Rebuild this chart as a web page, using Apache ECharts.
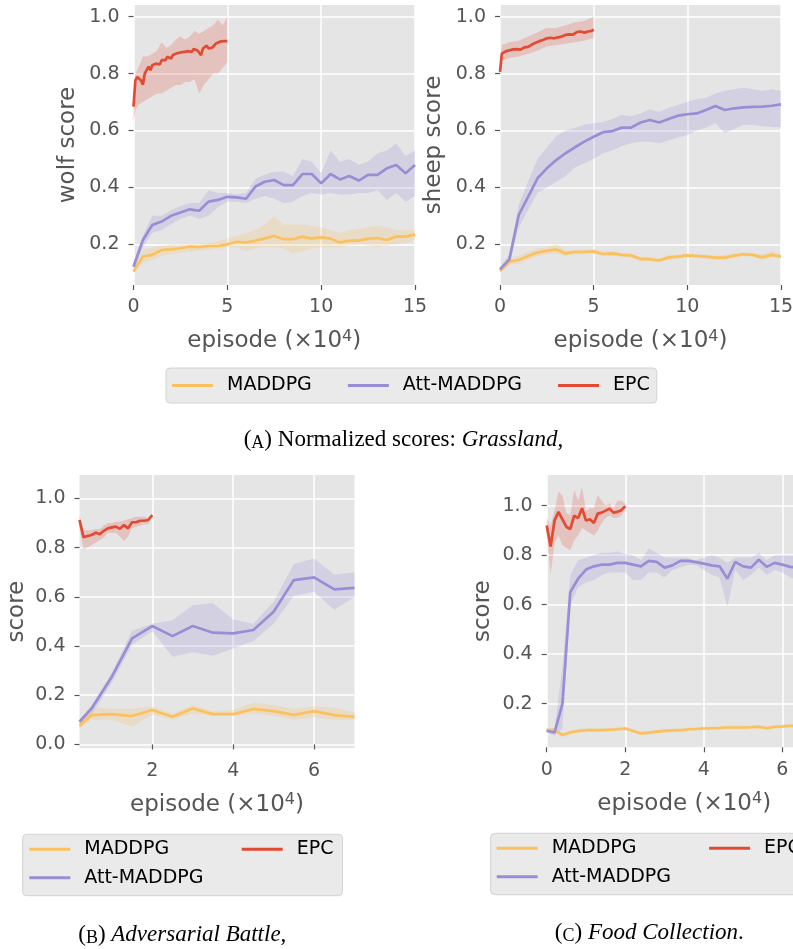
<!DOCTYPE html>
<html><head><meta charset="utf-8">
<script src="https://cdn.jsdelivr.net/npm/echarts@6/dist/echarts.min.js"></script>
<style>html,body{margin:0;padding:0;overflow:hidden;background:#fff}#c{width:830px;height:949px}</style>
</head><body><div id="c"></div><script>
// ---------- data (x in units of 1e4 episodes) ----------
const methods = ['MADDPG', 'Att-MADDPG', 'EPC'];

// (A) Grassland
const grassX = [0,0.5,1,1.5,2,2.5,3,3.5,4,4.5,5,5.5,6,6.5,7,7.5,8,8.5,9,9.5,10,10.5,11,11.5,12,12.5,13,13.5,14,14.5,15];
const grassEpcX = [0,0.1,0.2,0.3,0.4,0.5,0.6,0.7,0.8,0.9,1.0,1.1,1.2,1.3,1.4,1.5,1.6,1.7,1.8,1.9,2.0,2.1,2.2,2.3,2.4,2.5,2.6,2.7,2.8,2.9,3.0,3.1,3.2,3.3,3.4,3.5,3.6,3.7,3.8,3.9,4.0,4.1,4.2,4.3,4.4,4.5,4.6,4.7,4.8,4.9,5.0];

const wolfMADDPG    = [0.104,0.157,0.163,0.18,0.182,0.186,0.192,0.19,0.194,0.194,0.2,0.209,0.206,0.213,0.221,0.229,0.218,0.218,0.227,0.22,0.225,0.22,0.206,0.213,0.213,0.22,0.222,0.215,0.227,0.227,0.235];
const wolfMADDPGUp  = [0.11,0.18,0.19,0.195,0.2,0.2,0.2,0.2,0.205,0.21,0.22,0.23,0.24,0.25,0.27,0.3,0.27,0.27,0.27,0.265,0.26,0.25,0.24,0.25,0.255,0.26,0.265,0.26,0.25,0.25,0.25];
const wolfMADDPGLo  = [0.1,0.135,0.145,0.16,0.165,0.17,0.175,0.178,0.18,0.185,0.19,0.19,0.175,0.185,0.19,0.19,0.185,0.168,0.175,0.185,0.19,0.19,0.19,0.195,0.2,0.195,0.19,0.195,0.2,0.205,0.215];
const wolfAtt       = [0.121,0.215,0.268,0.28,0.3,0.312,0.323,0.318,0.35,0.356,0.367,0.365,0.36,0.403,0.42,0.426,0.408,0.408,0.447,0.447,0.414,0.447,0.428,0.44,0.424,0.444,0.444,0.467,0.479,0.45,0.479];
const wolfAttUp     = [0.13,0.23,0.3,0.3,0.32,0.335,0.345,0.345,0.39,0.38,0.38,0.375,0.38,0.43,0.445,0.455,0.455,0.44,0.5,0.49,0.45,0.53,0.49,0.5,0.48,0.49,0.52,0.53,0.555,0.51,0.53];
const wolfAttLo     = [0.1,0.19,0.24,0.25,0.27,0.29,0.3,0.29,0.3,0.33,0.35,0.35,0.345,0.36,0.37,0.36,0.344,0.35,0.37,0.38,0.375,0.38,0.375,0.375,0.38,0.38,0.39,0.356,0.38,0.35,0.37];
const wolfEPC       = [0.684,0.776,0.788,0.79,0.776,0.761,0.8,0.812,0.824,0.812,0.829,0.824,0.835,0.841,0.832,0.847,0.853,0.847,0.859,0.862,0.853,0.865,0.859,0.871,0.865,0.874,0.871,0.876,0.871,0.879,0.882,0.876,0.886,0.891,0.882,0.879,0.865,0.888,0.894,0.898,0.888,0.882,0.891,0.898,0.906,0.9,0.912,0.906,0.914,0.916,0.914];
const wolfEpcBandX  = [0,0.1,0.25,0.5,0.75,1,1.25,1.5,1.75,2,2.25,2.5,2.75,3,3.25,3.5,3.75,4,4.25,4.5,4.75,5];
const wolfEPCUp     = [0.72,0.8,0.82,0.86,0.86,0.87,0.88,0.91,0.89,0.9,0.92,0.93,0.92,0.93,0.95,0.94,0.95,0.96,0.97,0.99,0.97,1.0];
const wolfEPCLo     = [0.63,0.67,0.69,0.7,0.71,0.72,0.73,0.73,0.74,0.75,0.76,0.76,0.77,0.77,0.78,0.73,0.76,0.78,0.8,0.8,0.82,0.84];

const sheepMADDPG   = [0.107,0.139,0.145,0.159,0.171,0.177,0.182,0.168,0.173,0.173,0.175,0.166,0.168,0.163,0.161,0.148,0.148,0.143,0.154,0.157,0.161,0.159,0.157,0.153,0.153,0.16,0.165,0.163,0.154,0.163,0.157];
const sheepMADDPGUp = [0.115,0.15,0.16,0.175,0.185,0.19,0.2,0.18,0.183,0.182,0.183,0.175,0.176,0.17,0.168,0.156,0.155,0.15,0.162,0.164,0.168,0.166,0.165,0.16,0.162,0.168,0.172,0.17,0.165,0.175,0.165];
const sheepMADDPGLo = [0.1,0.128,0.132,0.145,0.16,0.165,0.168,0.158,0.164,0.165,0.167,0.158,0.16,0.156,0.153,0.14,0.14,0.136,0.146,0.15,0.154,0.152,0.149,0.145,0.145,0.152,0.158,0.155,0.145,0.152,0.15];
const sheepAtt      = [0.112,0.147,0.303,0.367,0.432,0.467,0.496,0.52,0.541,0.561,0.578,0.594,0.598,0.61,0.61,0.628,0.637,0.628,0.64,0.652,0.657,0.66,0.672,0.686,0.672,0.678,0.681,0.683,0.684,0.687,0.692];
const sheepAttUp    = [0.12,0.165,0.34,0.42,0.5,0.54,0.58,0.6,0.61,0.62,0.625,0.63,0.64,0.655,0.65,0.66,0.675,0.665,0.68,0.69,0.7,0.71,0.715,0.73,0.74,0.745,0.75,0.745,0.74,0.745,0.74];
const sheepAttLo    = [0.1,0.13,0.26,0.32,0.38,0.4,0.42,0.44,0.47,0.485,0.5,0.52,0.53,0.545,0.555,0.56,0.56,0.555,0.565,0.575,0.584,0.6,0.61,0.625,0.59,0.605,0.62,0.62,0.615,0.612,0.611];
const sheepEPC      = [0.806,0.87,0.875,0.878,0.88,0.882,0.885,0.885,0.883,0.886,0.888,0.884,0.89,0.892,0.888,0.894,0.898,0.902,0.905,0.908,0.91,0.914,0.912,0.918,0.92,0.924,0.921,0.926,0.928,0.924,0.93,0.927,0.932,0.93,0.934,0.936,0.933,0.938,0.94,0.937,0.944,0.946,0.942,0.948,0.945,0.944,0.942,0.948,0.952,0.95,0.955];
const sheepEpcBandX = [0,0.1,0.5,1,1.5,2,2.5,3,3.5,4,4.5,5];
const sheepEPCUp    = [0.83,0.9,0.91,0.915,0.93,0.945,0.96,0.96,0.97,0.98,0.985,1.0];
const sheepEPCLo    = [0.79,0.845,0.855,0.86,0.87,0.88,0.895,0.9,0.905,0.91,0.915,0.925];

// (B) Adversarial Battle
const battleX = [0.2,0.5,1,1.5,2,2.5,3,3.5,4,4.5,5,5.5,6,6.5,7];
const battleMADDPG   = [0.076,0.119,0.123,0.115,0.14,0.112,0.146,0.123,0.123,0.144,0.135,0.12,0.135,0.119,0.112];
const battleMADDPGUp = [0.09,0.15,0.145,0.145,0.155,0.125,0.16,0.135,0.14,0.17,0.16,0.145,0.155,0.15,0.13];
const battleMADDPGLo = [0.065,0.1,0.1,0.072,0.12,0.1,0.125,0.115,0.115,0.125,0.115,0.1,0.11,0.1,0.1];
const battleAtt      = [0.092,0.146,0.275,0.431,0.481,0.44,0.481,0.454,0.451,0.465,0.539,0.668,0.679,0.63,0.636];
const battleAttUp    = [0.1,0.16,0.29,0.462,0.49,0.505,0.566,0.575,0.508,0.49,0.58,0.733,0.756,0.69,0.7];
const battleAttLo    = [0.075,0.12,0.25,0.404,0.46,0.356,0.374,0.36,0.39,0.42,0.49,0.603,0.62,0.546,0.6];
const battleEpcX     = [0.2,0.3,0.4,0.5,0.6,0.7,0.8,0.9,1.0,1.1,1.2,1.3,1.4,1.5,1.6,1.7,1.8,1.9,2.0];
const battleEPC      = [0.912,0.842,0.847,0.851,0.861,0.854,0.868,0.878,0.882,0.885,0.876,0.892,0.878,0.903,0.903,0.909,0.909,0.912,0.932];
const battleEPCUp    = [0.93,0.87,0.87,0.87,0.875,0.875,0.89,0.9,0.9,0.905,0.905,0.91,0.915,0.92,0.925,0.925,0.925,0.92,0.935];
const battleEPCLo    = [0.88,0.793,0.8,0.81,0.82,0.83,0.84,0.86,0.86,0.86,0.845,0.827,0.845,0.88,0.885,0.89,0.895,0.895,0.93];

// (C) Food Collection
const foodX = [0,0.2,0.4,0.6,0.8,1.0,1.2,1.4,1.6,1.8,2.0,2.2,2.4,2.6,2.8,3.0,3.2,3.4,3.6,3.8,4.0,4.2,4.4,4.6,4.8,5.0,5.2,5.4,5.6,5.8,6.0,6.2,6.4];
const foodMADDPG   = [0.093,0.093,0.074,0.084,0.09,0.093,0.093,0.093,0.095,0.097,0.1,0.09,0.08,0.083,0.087,0.09,0.092,0.093,0.097,0.098,0.1,0.101,0.102,0.104,0.104,0.104,0.105,0.107,0.101,0.107,0.108,0.111,0.11];
const foodMADDPGUp = [0.1,0.1,0.082,0.091,0.097,0.1,0.1,0.1,0.102,0.104,0.107,0.097,0.087,0.09,0.094,0.097,0.099,0.1,0.104,0.105,0.107,0.108,0.109,0.111,0.111,0.111,0.112,0.114,0.108,0.114,0.115,0.118,0.117];
const foodMADDPGLo = [0.086,0.086,0.067,0.077,0.083,0.086,0.086,0.086,0.088,0.09,0.093,0.083,0.073,0.076,0.08,0.083,0.085,0.086,0.09,0.091,0.093,0.094,0.095,0.097,0.097,0.097,0.098,0.1,0.094,0.1,0.101,0.104,0.103];
const foodAtt      = [0.091,0.084,0.199,0.651,0.705,0.742,0.755,0.762,0.762,0.769,0.769,0.762,0.755,0.777,0.773,0.75,0.759,0.777,0.777,0.772,0.766,0.759,0.755,0.705,0.773,0.755,0.75,0.782,0.753,0.769,0.762,0.753,0.75];
const foodAttUp    = [0.1,0.1,0.35,0.72,0.78,0.79,0.8,0.81,0.81,0.815,0.805,0.8,0.78,0.827,0.81,0.79,0.79,0.79,0.79,0.78,0.79,0.8,0.79,0.77,0.79,0.79,0.79,0.81,0.78,0.8,0.8,0.8,0.8];
const foodAttLo    = [0.085,0.07,0.1,0.6,0.67,0.69,0.7,0.72,0.73,0.73,0.73,0.7,0.7,0.73,0.73,0.71,0.74,0.75,0.76,0.76,0.74,0.72,0.71,0.59,0.74,0.7,0.72,0.75,0.72,0.74,0.73,0.71,0.7];
const foodEpcX     = [0,0.1,0.2,0.3,0.4,0.5,0.6,0.7,0.8,0.9,1.0,1.1,1.2,1.3,1.4,1.5,1.6,1.7,1.8,1.9,2.0];
const foodEPC      = [0.92,0.835,0.94,0.975,0.945,0.915,0.905,0.96,0.95,0.99,0.94,0.945,0.93,0.968,0.972,0.98,0.988,0.972,0.975,0.982,0.998];
const foodEPCUp    = [0.95,0.92,0.98,1.057,1.04,0.97,0.96,1.064,1.02,1.077,0.98,0.99,0.99,1.043,1.02,1.0,1.01,0.99,1.02,1.02,1.01];
const foodEPCLo    = [0.89,0.72,0.85,0.88,0.84,0.83,0.82,0.86,0.88,0.91,0.9,0.89,0.88,0.9,0.93,0.95,0.96,0.95,0.95,0.96,0.985];

// tick labels
const ticksGrassX = [0,5,10,15];
const ticksBattleX = [2,4,6];
const ticksFoodX = [0,2,4,6];
const ticksScoreY = [0.2,0.4,0.6,0.8,1.0];
const ticksBattleY = [0.0,0.2,0.4,0.6,0.8,1.0];

// ---------- styling ----------
const lineColor = {'MADDPG':'#FBC15E','Att-MADDPG':'#988ED5','EPC':'#E24A33'};
const bandColor = {'MADDPG':'rgba(251,193,94,0.22)','Att-MADDPG':'rgba(152,142,213,0.22)','EPC':'rgba(226,74,51,0.22)'};
const SANS = 'DejaVu Sans';
const SERIF = 'Liberation Serif';
const GRAY = '#555555';

const panels = [
  {grid:{left:133.5, top:5, width:281.5, height:280}, xMin:0, xMax:15, xTicks:ticksGrassX, yMin:0.057, yMax:1.041, yTicks:ticksScoreY, yName:'wolf score', yGap:54,
   lines:[
     {name:'MADDPG', x:grassX, y:wolfMADDPG, bx:grassX, up:wolfMADDPGUp, lo:wolfMADDPGLo},
     {name:'Att-MADDPG', x:grassX, y:wolfAtt, bx:grassX, up:wolfAttUp, lo:wolfAttLo},
     {name:'EPC', x:grassEpcX, y:wolfEPC, bx:wolfEpcBandX, up:wolfEPCUp, lo:wolfEPCLo}]},
  {grid:{left:500, top:5, width:281, height:280}, xMin:0, xMax:15, xTicks:ticksGrassX, yMin:0.057, yMax:1.041, yTicks:ticksScoreY, yName:'sheep score', yGap:54,
   lines:[
     {name:'MADDPG', x:grassX, y:sheepMADDPG, bx:grassX, up:sheepMADDPGUp, lo:sheepMADDPGLo},
     {name:'Att-MADDPG', x:grassX, y:sheepAtt, bx:grassX, up:sheepAttUp, lo:sheepAttLo},
     {name:'EPC', x:grassEpcX, y:sheepEPC, bx:sheepEpcBandX, up:sheepEPCUp, lo:sheepEPCLo}]},
  {grid:{left:79.5, top:475, width:275, height:273.3}, xMin:0.2, xMax:7, xTicks:ticksBattleX, yMin:-0.016, yMax:1.095, yTicks:ticksBattleY, yName:'score', yGap:51,
   lines:[
     {name:'MADDPG', x:battleX, y:battleMADDPG, bx:battleX, up:battleMADDPGUp, lo:battleMADDPGLo},
     {name:'Att-MADDPG', x:battleX, y:battleAtt, bx:battleX, up:battleAttUp, lo:battleAttLo},
     {name:'EPC', x:battleEpcX, y:battleEPC, bx:battleEpcX, up:battleEPCUp, lo:battleEPCLo}]},
  {grid:{left:546.7, top:475, width:275, height:272.3}, xMin:0, xMax:7, xTicks:ticksFoodX, yMin:0.024, yMax:1.124, yTicks:ticksScoreY, yName:'score', yGap:52,
   lines:[
     {name:'MADDPG', x:foodX, y:foodMADDPG, bx:foodX, up:foodMADDPGUp, lo:foodMADDPGLo},
     {name:'Att-MADDPG', x:foodX, y:foodAtt, bx:foodX, up:foodAttUp, lo:foodAttLo},
     {name:'EPC', x:foodEpcX, y:foodEPC, bx:foodEpcX, up:foodEPCUp, lo:foodEPCLo}]}
];

const grid = [], xAxis = [], yAxis = [], series = [];
panels.forEach((p, i) => {
  grid.push(Object.assign({show:true, backgroundColor:'#E5E5E5', borderWidth:0}, p.grid));
  xAxis.push({
    type:'value', gridIndex:i, min:p.xMin, max:p.xMax,
    axisLine:{show:false},
    axisTick:{show:true, length:5, lineStyle:{color:GRAY, width:1.2}, customValues:p.xTicks},
    axisLabel:{customValues:p.xTicks, color:GRAY, fontSize:19, fontFamily:SANS, margin:13, formatter:v => String(v)},
    splitLine:{show:true, lineStyle:{color:'#FFFFFF', width:1.5}},
    name:'episode (×10{sup|4})', nameLocation:'middle', nameGap:44,
    nameTextStyle:{color:GRAY, fontSize:23, fontFamily:SANS, lineHeight:25,
      rich:{sup:{color:GRAY, fontSize:16, fontFamily:SANS, lineHeight:16, verticalAlign:'top'}}}
  });
  yAxis.push({
    type:'value', gridIndex:i, min:p.yMin, max:p.yMax,
    axisLine:{show:false},
    axisTick:{show:true, length:5, lineStyle:{color:GRAY, width:1.2}, customValues:p.yTicks},
    axisLabel:{customValues:p.yTicks, color:GRAY, fontSize:19, fontFamily:SANS, margin:14, formatter:v => v.toFixed(1)},
    splitLine:{show:true, lineStyle:{color:'#FFFFFF', width:1.5}},
    name:p.yName, nameLocation:'middle', nameGap:p.yGap,
    nameTextStyle:{color:GRAY, fontSize:23, fontFamily:SANS}
  });
  p.lines.forEach(s => {
    series.push({
      type:'custom', name:s.name + ' band', xAxisIndex:i, yAxisIndex:i, silent:true, clip:true, z:1,
      data:[[s.bx[0], s.lo[0]]],
      renderItem:(params, api) => {
        const pts = [];
        for (let k = 0; k < s.bx.length; k++) pts.push(api.coord([s.bx[k], s.up[k]]));
        for (let k = s.bx.length - 1; k >= 0; k--) pts.push(api.coord([s.bx[k], s.lo[k]]));
        return {type:'polygon', shape:{points:pts}, style:{fill:bandColor[s.name]}};
      }
    });
  });
  p.lines.forEach(s => {
    series.push({
      type:'line', name:s.name, xAxisIndex:i, yAxisIndex:i, silent:true, z:3,
      data:s.x.map((v, k) => [v, s.y[k]]),
      symbol:'none', showSymbol:false,
      lineStyle:{width:2.7, color:lineColor[s.name]},
      itemStyle:{color:lineColor[s.name]}
    });
  });
});

const legendBase = {
  data:methods, selectedMode:false, icon:'rect', itemWidth:41, itemHeight:3,
  backgroundColor:'#EAEAEA', borderColor:'#D2D2D2', borderWidth:1, borderRadius:4,
  textStyle:{color:'#000', fontSize:19, fontFamily:SANS, lineHeight:20, padding:[0,0,0,9]}
};
const colFormatter = name => name === 'EPC' ? name : '{w|' + name + '}';
const colRich = {w:{width:149, fontSize:19, fontFamily:SANS, color:'#000', lineHeight:20}};
const legend = [
  Object.assign({}, legendBase, {left:166, top:368, orient:'horizontal', itemGap:36, padding:[7.5,7,7.5,6]}),
  Object.assign({}, legendBase, {left:22.7, top:834.3, orient:'vertical', height:50, itemGap:8.4, padding:[5,9,8,6.6],
    formatter:colFormatter, textStyle:Object.assign({}, legendBase.textStyle, {rich:colRich})}),
  Object.assign({}, legendBase, {left:490.7, top:833.3, orient:'vertical', height:50, itemGap:8.4, padding:[5,9,8,6],
    formatter:colFormatter, textStyle:Object.assign({}, legendBase.textStyle, {rich:colRich})})
];

const capRich = {
  sc:{fontFamily:SERIF, fontSize:18, color:'#000', verticalAlign:'bottom'},
  it:{fontFamily:SERIF, fontSize:23, fontStyle:'italic', color:'#000'}
};
const capStyle = {fontFamily:SERIF, fontSize:23, fontWeight:'normal', color:'#000', lineHeight:24, rich:capRich};
const title = [
  {text:'({sc|A}) Normalized scores: {it|Grassland},', left:403.5, top:428, textAlign:'center', padding:0, textStyle:capStyle},
  {text:'({sc|B}) {it|Adversarial Battle},', left:182.3, top:923, textAlign:'center', padding:0, textStyle:capStyle},
  {text:'({sc|C}) {it|Food Collection}.', left:649.3, top:921, textAlign:'center', padding:0, textStyle:capStyle}
];

const chart = echarts.init(document.getElementById('c'), null, {renderer:'canvas'});
chart.setOption({animation:false, backgroundColor:'#FFFFFF', title, legend, grid, xAxis, yAxis, series});
</script></body></html>
